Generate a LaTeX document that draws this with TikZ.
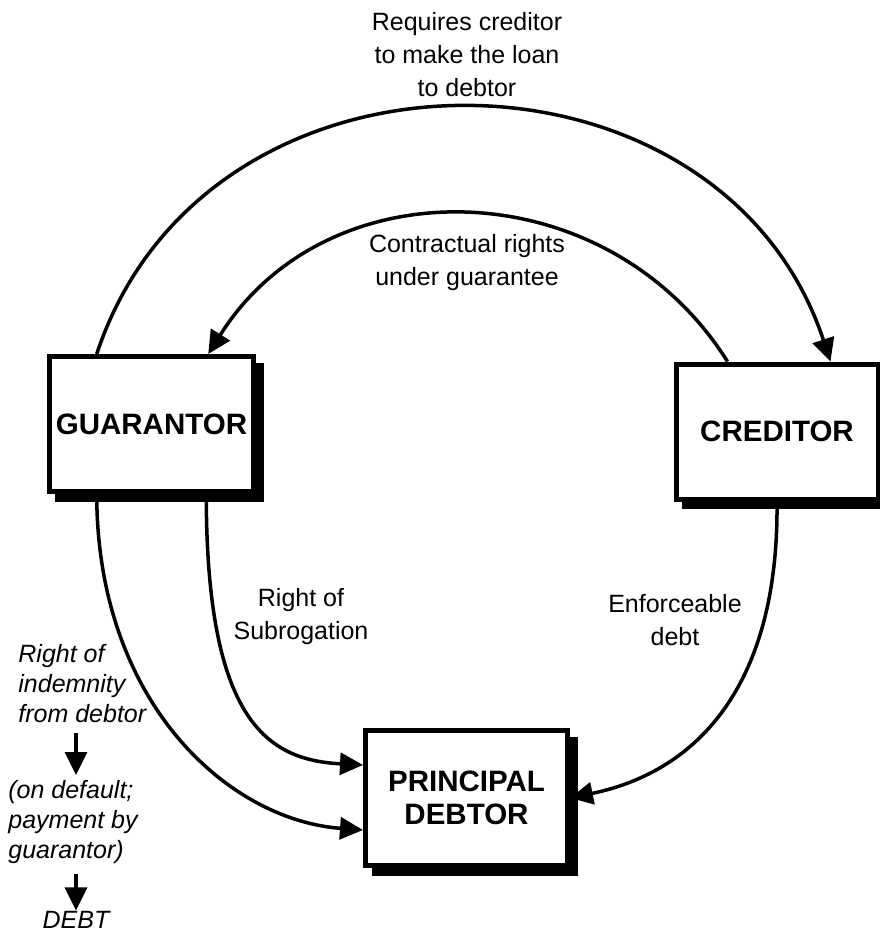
\documentclass[tikz,border=0pt]{standalone}
\usepackage{fontspec}
\setmainfont{Liberation Sans}
\usepackage{tikz}
\usetikzlibrary{arrows.meta, shadows}
\tikzset{
    box/.style={draw, line width=2.5pt, fill=white, minimum width=101pt, minimum height=67.5pt,
      align=center, font=\bfseries\fontsize{14.75}{16.5}\selectfont,
      drop shadow={shadow xshift=4pt, shadow yshift=-4pt, fill=black, draw=black, line width=2pt, opacity=1}},
    lbl/.style={align=center, inner sep=0pt, font=\fontsize{12.5}{16.5}\selectfont},
    note/.style={align=left, inner sep=0pt, font=\itshape\fontsize{12.5}{15}\selectfont},
    link/.style={line width=1.75pt, -{Triangle[length=11.5pt, width=11pt]}}
}
\begin{document}
\begin{tikzpicture}[x=0.5pt, y=-0.5pt]
          \useasboundingbox (0,0) rectangle (880,934);
          \node [box] (guar) at (151.5,424) {GUARANTOR};
          \node [box] (cred) at (777,431.5) {CREDITOR};
          \node [box] (prin) at (466.5,798) {PRINCIPAL\\DEBTOR};
          \node [lbl] (req) at (467,55) {Requires creditor\\to make the loan\\to debtor};
          \node [lbl] (contr) at (467,263) {Contractual rights\\under guarantee};
          \node [lbl] (subr) at (301,617) {Right of\\Subrogation};
          \node [lbl] (enf) at (675,620) {Enforceable\\debt};
          \node [note, anchor=north west] (indem) at (18,644) {Right of\\indemnity\\from debtor};
          \node [note, anchor=north west] (dflt) at (8,780) {(on default;\\payment by\\guarantor)};
          \node [note, anchor=base] (debt) at (76,928) {DEBT};
          \draw [link] ([xshift=25pt]guar.north west) .. controls +(110,-333) and +(-110,-333) .. ([xshift=-25pt]cred.north east);
          \draw [link] ([xshift=27pt]cred.north west) .. controls +(-120,-191) and +(120,-191) .. ([xshift=-24pt]guar.north east);
          \draw [link] ([xshift=-25pt]guar.south east) .. controls +(0,228) and +(-95,-5) .. ([yshift=16.5pt]prin.west);
          \draw [link] ([xshift=25pt]guar.south west) .. controls +(0,208) and +(-135,-10) .. ([yshift=-16pt]prin.west);
          \draw [link] (cred.south) .. controls +(2,181) and +(130,-27) .. (prin.east);
          \draw [link, shorten <=5pt, shorten >=2.5pt] (indem.south -| debt.base) -- (dflt.north -| debt.base);
          \draw [link, shorten <=5pt] (dflt.south -| debt.base) -- (debt.north);
\end{tikzpicture}
\end{document}
